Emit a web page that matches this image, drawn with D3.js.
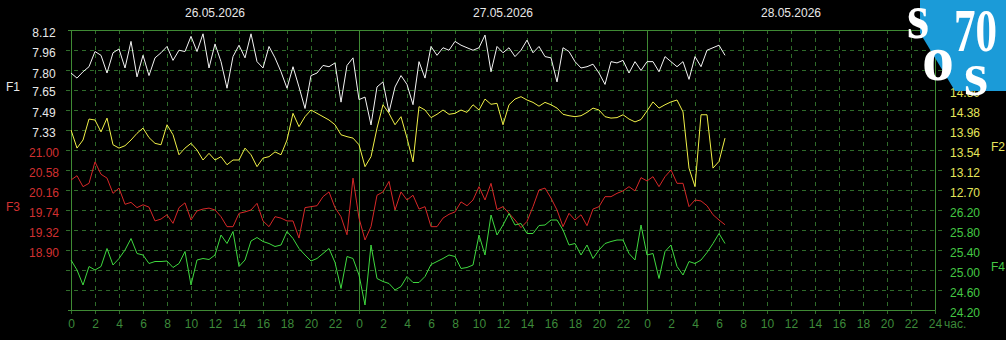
<!DOCTYPE html>
<html>
  <head>
    <meta charset="utf-8">
    <title>F1-F4</title>
    <script src="https://cdn.jsdelivr.net/npm/d3@7"></script>
    <style>
      body { margin: 0; background: #000; }
      text { font-family: "Liberation Sans", Arial, sans-serif; font-size: 12px; }
    </style>
  </head>
  <body>
    <script>

      // samples every 30 min starting 26.05.2026 00:00
      var startTime = new Date(2026, 4, 26, 0, 0);
      var stepMinutes = 30;

      var days = ["26.05.2026", "27.05.2026", "28.05.2026"];

      var f1 = [7.78,7.74,7.79,7.83,7.95,7.92,7.78,7.94,7.97,7.82,8.03,7.75,7.92,7.76,7.90,7.94,7.99,7.88,7.96,7.95,8.07,7.95,8.09,7.82,8.01,7.87,7.66,7.91,
                8.00,7.90,8.09,7.87,7.82,7.99,7.90,7.79,7.66,7.83,7.67,7.50,7.76,7.78,7.84,7.83,7.86,7.55,7.84,7.90,7.57,7.59,7.37,7.67,7.71,7.47,7.67,
                7.76,7.69,7.53,7.87,7.74,7.99,7.92,7.98,7.96,8.03,8.00,7.98,7.96,7.98,8.08,7.79,7.99,7.94,7.98,7.91,7.96,8.04,7.94,7.99,7.91,7.90,7.71,7.98,
                7.95,7.87,7.82,7.83,7.85,7.78,7.69,7.87,7.86,7.88,7.78,7.87,7.80,7.87,7.87,7.79,7.91,7.87,7.83,7.87,7.73,7.91,7.83,7.96,7.98,8.00,7.92];

      var f2 = [13.96,13.58,13.75,14.19,14.17,13.92,14.21,13.65,13.58,13.63,13.75,13.89,14.00,13.80,13.68,13.65,14.07,13.86,13.44,13.58,13.68,13.54,13.33,13.47,13.33,13.40,13.23,13.33,
                13.33,13.58,13.44,13.19,13.37,13.40,13.50,13.44,13.75,14.31,14.03,14.24,14.38,14.31,14.24,14.17,14.07,13.86,13.82,13.79,13.65,13.19,13.40,14.00,14.49,14.31,14.07,
                14.24,13.79,13.29,14.45,14.38,14.22,14.29,14.38,14.29,14.31,14.38,14.33,14.49,14.38,14.61,14.50,14.52,14.07,14.49,14.61,14.66,14.59,14.54,14.46,14.54,14.49,14.42,14.29,
                14.26,14.24,14.26,14.33,14.42,14.38,14.24,14.21,14.22,14.28,14.19,14.13,14.18,14.36,14.55,14.42,14.49,14.55,14.59,14.34,13.16,12.77,14.28,14.28,13.16,13.30,13.79];

      var f3 = [20.37,20.46,20.23,20.30,20.75,20.49,20.41,20.09,20.20,19.86,19.90,19.79,19.85,19.80,19.51,19.55,19.64,19.46,19.79,19.89,19.53,19.72,19.76,19.78,19.74,19.60,19.39,19.39,
                19.67,19.70,19.74,19.88,19.51,19.39,19.60,19.57,19.51,19.51,19.15,19.79,19.81,19.83,20.02,20.12,19.79,19.60,19.22,20.41,19.57,19.11,19.39,20.05,20.12,20.34,19.74,
                20.12,19.95,20.05,19.76,19.81,19.39,19.39,19.57,19.65,19.70,19.91,19.83,19.95,20.23,19.95,20.30,19.75,19.81,19.67,19.53,19.37,19.50,19.81,20.16,20.20,19.99,19.74,19.39,
                19.67,19.53,19.64,19.41,19.76,19.81,20.02,20.02,20.09,20.14,20.23,20.14,20.42,20.35,20.44,20.23,20.44,20.58,20.30,20.30,19.81,19.95,19.93,19.83,19.64,19.53,19.43];

      var f4 = [25.20,25.00,24.70,25.07,25.00,25.07,25.43,25.10,25.23,25.40,25.63,25.33,25.30,25.13,25.17,25.17,25.18,25.05,25.13,25.37,24.70,25.20,25.23,25.21,25.30,25.70,25.53,25.77,
                25.07,25.20,25.58,25.65,25.57,25.53,25.47,25.50,25.77,25.63,25.43,25.30,25.18,25.23,25.33,25.43,25.15,24.63,25.27,25.23,24.90,24.30,25.50,24.83,24.77,24.73,24.60,
                24.67,24.87,24.75,24.75,24.87,25.11,25.17,25.23,25.30,25.27,25.03,25.05,25.10,25.70,25.30,26.10,25.70,25.90,26.13,25.90,25.93,25.73,25.73,25.89,25.90,26.00,26.00,25.80,
                25.50,25.53,25.30,25.50,25.23,25.40,25.53,25.57,25.60,25.60,25.33,25.20,25.90,25.30,25.33,24.83,25.37,25.50,25.07,24.90,25.17,25.13,25.20,25.35,25.53,25.73,25.53];

      var f1Ticks = [8.12, 7.96, 7.80, 7.65, 7.49, 7.33];
      var f2Ticks = [14.80, 14.38, 13.96, 13.54, 13.12, 12.70];
      var f3Ticks = [21.00, 20.58, 20.16, 19.74, 19.32, 18.90];
      var f4Ticks = [26.20, 25.80, 25.40, 25.00, 24.60, 24.20];

      var W = 1006, H = 340;
      var plotL = 71, plotR = 935, plotT = 30, plotB = 310;

      var svg = d3.select("body").append("svg")
                  .attr("width", W)
                  .attr("height", H);

      svg.append("rect").attr("width", W).attr("height", H).attr("fill", "#000");

      var endTime = d3.timeDay.offset(startTime, 3);
      var x = d3.scaleTime().domain([startTime, endTime]).range([plotL, plotR]);

      var yF1 = d3.scaleLinear().domain([8.12, 7.33]).range([30, 130]);
      var yF2 = d3.scaleLinear().domain([14.80, 12.70]).range([90, 190]);
      var yF3 = d3.scaleLinear().domain([21.00, 18.90]).range([150, 250]);
      var yF4 = d3.scaleLinear().domain([26.20, 24.20]).range([210, 310]);

      var times = f1.map(function(d, i) { return d3.timeMinute.offset(startTime, i * stepMinutes); });

      // grid
      var gridColor = "#2f6b2a";
      var hLines = d3.range(plotT + 20, plotB, 20);
      svg.selectAll(".hgrid").data(hLines).enter().append("line")
        .attr("x1", plotL - 5).attr("x2", plotR + 7)
        .attr("y1", function(d) { return d + 0.5; }).attr("y2", function(d) { return d + 0.5; })
        .attr("stroke", gridColor).attr("stroke-dasharray", "4,4");

      var hours = x.ticks(d3.timeHour.every(2));
      svg.selectAll(".vgrid").data(hours).enter().append("line")
        .attr("x1", function(d) { return Math.round(x(d)) + 0.5; })
        .attr("x2", function(d) { return Math.round(x(d)) + 0.5; })
        .attr("y1", plotT).attr("y2", plotB + 4)
        .attr("stroke", gridColor).attr("stroke-dasharray", "4,4");

      // solid frame and day separators
      var solid = "#3f8a34";
      svg.append("line").attr("x1", plotL - 3).attr("x2", plotR).attr("y1", plotT + 0.5).attr("y2", plotT + 0.5).attr("stroke", solid);
      svg.append("line").attr("x1", plotL - 3).attr("x2", plotR).attr("y1", plotB + 0.5).attr("y2", plotB + 0.5).attr("stroke", solid);
      svg.append("line").attr("x1", plotR + 0.5).attr("x2", plotR + 0.5).attr("y1", plotT).attr("y2", plotB).attr("stroke", solid);
      svg.selectAll(".day").data([0, 1, 2]).enter().append("line")
        .attr("x1", function(d) { return Math.round(x(d3.timeDay.offset(startTime, d))) + 0.5; })
        .attr("x2", function(d) { return Math.round(x(d3.timeDay.offset(startTime, d))) + 0.5; })
        .attr("y1", plotT).attr("y2", plotB)
        .attr("stroke", solid);

      // day labels
      svg.selectAll(".dayLabel").data(days).enter().append("text")
        .attr("x", function(d, i) { return x(d3.timeHour.offset(startTime, i * 24 + 12)); })
        .attr("y", 17)
        .attr("text-anchor", "middle")
        .attr("fill", "#e8e8e8")
        .text(function(d) { return d; });

      // hour labels
      var xAxis = d3.axisBottom(x)
        .tickValues(hours)
        .tickSize(0)
        .tickPadding(9)
        .tickFormat(function(d) { return +d === +endTime ? "24" : String(d.getHours()); });
      var gx = svg.append("g").attr("transform", "translate(0," + plotB + ")").call(xAxis);
      gx.select(".domain").remove();
      gx.selectAll("text").attr("fill", "#3d8a3a").style("font-size", "12px").style("font-family", "Liberation Sans, Arial, sans-serif");
      svg.append("text").attr("x", plotR + 9).attr("y", 328).attr("fill", "#3d8a3a").text("час.");

      // value labels
      function labels(ticks, scale, xPos, color) {
        svg.append("g").selectAll("text").data(ticks).enter().append("text")
          .attr("x", xPos)
          .attr("y", function(d) { return scale(d) + 7; })
          .attr("text-anchor", "middle")
          .attr("fill", color)
          .text(function(d) { return d.toFixed(2); });
      }
      labels(f1Ticks, yF1, 44, "#e8e8e8");
      labels(f3Ticks, yF3, 44, "#d23030");
      labels(f2Ticks, yF2, 965, "#e6e65a");
      labels(f4Ticks, yF4, 965, "#44c844");

      svg.append("text").attr("x", 6).attr("y", 91).attr("fill", "#e8e8e8").text("F1");
      svg.append("text").attr("x", 6).attr("y", 211).attr("fill", "#d23030").text("F3");
      svg.append("text").attr("x", 991).attr("y", 151).attr("fill", "#e6e65a").text("F2");
      svg.append("text").attr("x", 991).attr("y", 271).attr("fill", "#44c844").text("F4");

      // series
      var series = [
        { values: f1, y: yF1, color: "#f4f4f4" },
        { values: f2, y: yF2, color: "#f0f048" },
        { values: f3, y: yF3, color: "#d62828" },
        { values: f4, y: yF4, color: "#3fd83f" }
      ];
      series.forEach(function(s) {
        var line = d3.line()
          .x(function(d, i) { return x(times[i]); })
          .y(function(d) { return s.y(d); });
        svg.append("path")
          .attr("d", line(s.values))
          .attr("fill", "none")
          .attr("stroke", s.color)
          .attr("stroke-width", 1);
      });

      // logo
      var logo = svg.append("g");
      logo.append("polygon").attr("points", "920,0 1006,0 1006,91 955,91 920,33").attr("fill", "#1b9bd8");
      var serif = "Liberation Serif, DejaVu Serif, serif";
      function logoText(t, xPos, yPos, size, len) {
        logo.append("text").attr("x", xPos).attr("y", yPos)
          .attr("textLength", len).attr("lengthAdjust", "spacingAndGlyphs")
          .style("font-family", serif).style("font-size", size + "px").style("font-weight", "bold")
          .attr("fill", "#fff").text(t);
      }
      logoText("s", 907, 38, 64, 22);
      logoText("70", 954, 51, 62, 43);
      logoText("o", 922, 80, 64, 32);
      logoText("s", 964, 95, 62, 24);

    </script>
  </body>
</html>
